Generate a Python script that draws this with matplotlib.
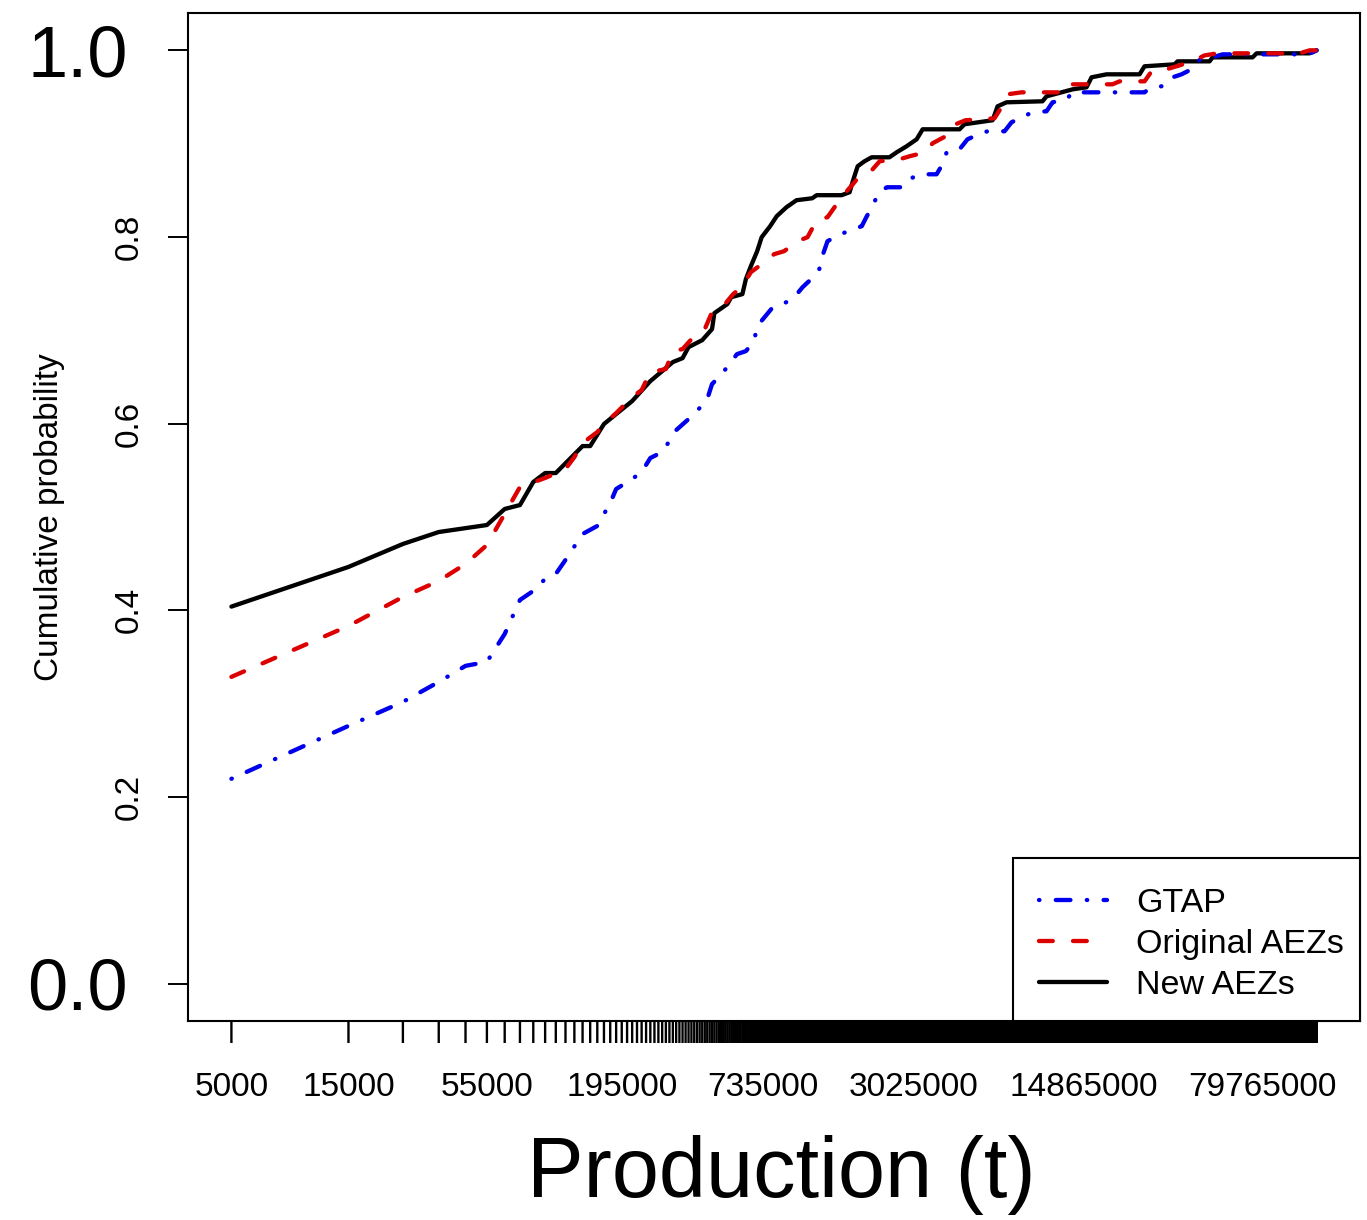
import numpy as np
import matplotlib
matplotlib.use("Agg")
import matplotlib.pyplot as plt
from matplotlib.ticker import NullLocator
from matplotlib.patches import Rectangle

plt.rcParams['font.family'] = ['Liberation Sans', 'DejaVu Sans']

# cumulative curves (production in t, cumulative probability)
new_x = [5000, 15000, 25000, 35000, 55000, 65000, 75000, 85000, 95000, 105000,
         135000, 145000, 165000, 185000, 215000, 255000, 285000, 315000, 345000, 365000,
         415000, 455000, 465000, 525000, 545000, 605000, 625000, 655000, 695000, 725000,
         785000, 835000, 915000, 1005000, 1165000, 1215000, 1535000, 1655000, 1705000, 1785000,
         1905000, 2035000, 2405000, 2575000, 2825000, 3105000, 3285000, 4645000, 4865000, 6335000,
         6635000, 7215000, 10115000, 10505000, 13415000, 15295000, 16035000, 18455000, 25155000, 26355000,
         34935000, 35935000, 48525000, 49915000, 72675000, 75445000, 124055000, 132505000]
new_p = [0.404, 0.4465, 0.4711, 0.4839, 0.4914, 0.5086, 0.5128, 0.5375, 0.5471, 0.5471,
         0.576, 0.576, 0.5996, 0.6103, 0.6242, 0.6456, 0.6563, 0.666, 0.6702, 0.682,
         0.6895, 0.7013, 0.7184, 0.7281, 0.7355, 0.7388, 0.7548, 0.7687, 0.7848, 0.7998,
         0.8116, 0.8223, 0.8319, 0.8394, 0.8415, 0.8448, 0.8448, 0.848, 0.8597, 0.8758,
         0.8812, 0.8854, 0.8854, 0.8908, 0.8972, 0.9047, 0.9154, 0.9154, 0.9208, 0.9251,
         0.94, 0.9443, 0.9454, 0.9507, 0.9582, 0.9604, 0.9711, 0.9743, 0.9743, 0.9829,
         0.985, 0.9882, 0.9882, 0.9925, 0.9925, 0.9968, 0.9968, 1.0]

orig_x = [5000, 15000, 25000, 35000, 45000, 55000, 75000, 95000, 115000, 125000,
          135000, 155000, 165000, 185000, 215000, 235000, 255000, 295000, 315000, 345000,
          385000, 425000, 455000, 505000, 555000, 605000, 655000, 725000, 815000, 895000,
          1015000, 1115000, 1215000, 1345000, 1465000, 1535000, 1705000, 1815000, 2055000, 2195000,
          2645000, 2905000, 3375000, 3605000, 4075000, 4265000, 4915000, 6445000, 6885000, 7285000,
          8305000, 11875000, 12325000, 19525000, 20855000, 26365000, 28145000, 32405000, 36615000, 41365000,
          46295000, 52295000, 113005000, 124055000, 132505000]
orig_p = [0.3287, 0.3833, 0.4143, 0.4315, 0.4497, 0.47, 0.5321, 0.5418, 0.5514, 0.5642,
          0.5792, 0.591, 0.5996, 0.6113, 0.6285, 0.636, 0.6552, 0.6585, 0.6777, 0.6799,
          0.6938, 0.7013, 0.7195, 0.7259, 0.7388, 0.7473, 0.7623, 0.7709, 0.7816, 0.7848,
          0.7955, 0.7998, 0.818, 0.8212, 0.8351, 0.8426, 0.8565, 0.8651, 0.8726, 0.8812,
          0.8833, 0.8865, 0.8908, 0.9004, 0.9079, 0.9186, 0.9251, 0.9272, 0.939, 0.9529,
          0.955, 0.955, 0.9636, 0.9636, 0.9668, 0.9668, 0.9775, 0.9797, 0.9839, 0.9882,
          0.9946, 0.9968, 0.9968, 1.0, 1.0]

gtap_x = [5000, 15000, 25000, 35000, 45000, 55000, 65000, 75000, 85000, 95000,
          105000, 115000, 135000, 155000, 165000, 175000, 185000, 215000, 235000, 255000,
          285000, 305000, 325000, 365000, 395000, 435000, 455000, 485000, 525000, 575000,
          625000, 675000, 695000, 745000, 805000, 915000, 985000, 1065000, 1165000, 1245000,
          1285000, 1345000, 1465000, 1625000, 1855000, 1945000, 2055000, 2155000, 2345000, 2715000,
          2955000, 3195000, 3745000, 3955000, 4115000, 4645000, 5005000, 5445000, 6035000, 7085000,
          7565000, 8305000, 9215000, 10505000, 11115000, 12675000, 13415000, 26365000, 27625000, 30915000,
          33325000, 37305000, 40975000, 43745000, 49915000, 54825000, 118435000, 127665000, 132505000]
gtap_p = [0.2195, 0.2762, 0.3019, 0.3233, 0.3405, 0.3448, 0.3747, 0.4111, 0.4208, 0.4336,
          0.439, 0.454, 0.4818, 0.4904, 0.5032, 0.515, 0.53, 0.5407, 0.5482, 0.5632,
          0.5696, 0.5814, 0.5931, 0.6049, 0.6135, 0.6263, 0.6424, 0.6499, 0.6606, 0.6745,
          0.6777, 0.6884, 0.7045, 0.7141, 0.7248, 0.7302, 0.7355, 0.7463, 0.7559, 0.7655,
          0.7805, 0.7955, 0.8009, 0.8062, 0.8116, 0.8223, 0.833, 0.8458, 0.8533, 0.8533,
          0.863, 0.8672, 0.8672, 0.8779, 0.8908, 0.894, 0.9047, 0.909, 0.9133, 0.9133,
          0.9229, 0.9283, 0.9336, 0.9347, 0.9443, 0.9475, 0.955, 0.955, 0.9593, 0.9615,
          0.97, 0.9743, 0.9797, 0.9893, 0.9925, 0.9957, 0.9957, 0.9979, 1.0]

x_label_vals = [5000, 15000, 55000, 195000, 735000, 3025000, 14865000, 79765000]
x_labels = [str(v) for v in x_label_vals]
y_ticks = [0.0, 0.2, 0.4, 0.6, 0.8, 1.0]
y_labels = ['0.0', '0.2', '0.4', '0.6', '0.8', '1.0']
series_names = ['GTAP', 'Original AEZs', 'New AEZs']

fig = plt.figure(figsize=(13.67, 12.2), dpi=100)
ax = fig.add_axes([188 / 1367, 1 - 1021 / 1220, 1172 / 1367, 1008 / 1220])

lw = 3.1
l_new, = ax.plot(new_x, new_p, color='black', lw=lw, solid_capstyle='round',
                 solid_joinstyle='round', zorder=2)
l_gtap, = ax.plot(gtap_x, gtap_p, color='#0000EE', lw=lw, dashes=(0.1, 3.8, 3.4, 3.8),
                  dash_capstyle='round', zorder=3)
l_orig, = ax.plot(orig_x, orig_p, color='#DD0000', lw=lw, dashes=(3.2, 4.7),
                  dash_capstyle='round', zorder=4)

ax.set_xscale('log')
xmin, xmax = min(new_x), max(new_x)
span = np.log10(xmax / xmin) * 0.04
ax.set_xlim(xmin / 10 ** span, xmax * 10 ** span)
ax.set_ylim(-0.04, 1.04)
ax.xaxis.set_minor_locator(NullLocator())

# R-style tick every 10000 t
tick_vals = np.arange(5000, xmax + 1, 10000)
ticks = ax.vlines(tick_vals, 0, -22 / 1008, transform=ax.get_xaxis_transform(),
                  clip_on=False, colors='black', lw=1.7)
ticks.set_snap(False)
ax.set_xticks(x_label_vals)
ax.set_xticklabels(x_labels, fontsize=24)
ax.tick_params(axis='x', length=0, pad=37)

ax.set_yticks(y_ticks)
ax.set_yticklabels([])
ax.tick_params(axis='y', length=14.4, width=1.4)
ytr = ax.get_yaxis_transform()
for v, s in zip(y_ticks, y_labels):
    if s in ('0.0', '1.0'):
        ax.text(-0.0512, v, s, transform=ytr, ha='right', va='center_baseline', fontsize=52)
    else:
        ax.text(-0.0503, v, s, transform=ytr, rotation=90, ha='center', va='center', fontsize=24)

for sp in ax.spines.values():
    sp.set_linewidth(1.5)

ax.set_ylabel('Cumulative probability', fontsize=24)
ax.yaxis.set_label_coords(-0.105, 0.5)
ax.set_xlabel('Production (t)', fontsize=61)
ax.xaxis.set_label_coords(0.506, -0.113)

# legend box flush with the lower right corner, entries placed inside it
ax.add_patch(Rectangle((0.7039, 0), 0.2961, 0.1617, transform=ax.transAxes,
                       facecolor='white', edgecolor='black', lw=1.5, zorder=5,
                       clip_on=False))
leg = ax.legend([l_gtap, l_orig, l_new], series_names, loc='center',
                bbox_to_anchor=(0.856, 0.0759), frameon=False, borderpad=0,
                fontsize=24.5, handlelength=2.0, handletextpad=0.85, labelspacing=0.3)
leg.set_zorder(6)

fig.savefig('out.png', dpi=100)
